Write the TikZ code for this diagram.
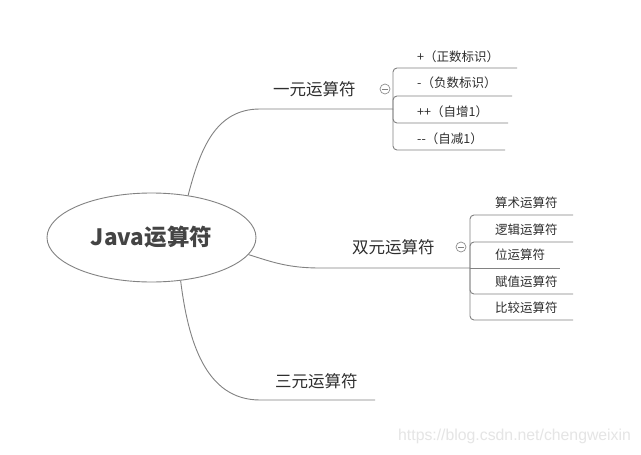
\documentclass[tikz,border=0pt]{standalone}
\usepackage{fontspec}
\setmainfont{Noto Sans CJK SC}
\newfontfamily\wmfont{Liberation Sans}
\usetikzlibrary{shapes.geometric}
\definecolor{linegray}{HTML}{828282}
\definecolor{txt}{HTML}{2E2E2E}
\definecolor{roottxt}{HTML}{444444}
\begin{document}
\begin{tikzpicture}[x=1pt,y=-1pt,
  conn/.style={draw=linegray,line width=0.9pt},
  brace/.style={draw=linegray,line width=0.9pt,rounded corners=4pt},
  lone/.style={font=\fontsize{16.5}{18}\selectfont, text=txt, anchor=west, inner sep=0},
  ltwo/.style={font=\fontsize{12.5}{14}\selectfont, text=txt, anchor=west, inner sep=0},
  fold/.style={circle,draw=linegray!90,line width=0.7pt,minimum size=10pt,inner sep=0,
    path picture={\draw[linegray,line width=0.7pt] ([xshift=-2.6pt]path picture bounding box.center) -- ([xshift=2.6pt]path picture bounding box.center);}}
]
\useasboundingbox (0,0) rectangle (641,455);
\fill[white] (0,0) rectangle (641,455);

\node[ellipse,draw=linegray,line width=0.9pt,minimum width=209pt,minimum height=89pt,inner sep=0,
  font=\bfseries\fontsize{22.5}{24}\selectfont,text=roottxt] (root) at (151.5,237.5) {Java运算符};

% level one
\node[lone] (n1) at (273,89) {一元运算符};
\node[lone] (n2) at (352,247) {双元运算符};
\node[lone] (n3) at (275,381) {三元运算符};
\node[fold] (f1) at (385,89) {};
\node[fold] (f2) at (461,247) {};

\coordinate (j1) at (393,109);
\coordinate (j2) at (470,268);
\coordinate (e3) at (375,400);

\draw[conn] (root.49) .. controls (200,150) and (215,109) .. (260,109) -- (j1);
\draw[conn] (root.-10) .. controls (272,262) and (288,268) .. (320,268) -- (j2);
\draw[conn] (root.-56) .. controls (188,340) and (205,400) .. (260,400) -- (e3);

% group one
\node[ltwo] (a1) at (417,57) {+（正数标识）};
\node[ltwo] (a2) at (417,83) {-（负数标识）};
\node[ltwo] (a3) at (417,112) {++（自增1）};
\node[ltwo] (a4) at (417,139) {-{}-（自减1）};
\coordinate (ua1) at (517,68);
\coordinate (ua2) at (512,96);
\coordinate (ua3) at (508,123);
\coordinate (ua4) at (505,150);
\draw[brace] (j1) |- (ua1);
\draw[brace] (j1) |- (ua2);
\draw[brace] (j1) |- (ua3);
\draw[brace] (j1) |- (ua4);

% group two
\node[ltwo] (b1) at (495,203) {算术运算符};
\node[ltwo] (b2) at (495,230) {逻辑运算符};
\node[ltwo] (b3) at (495,255) {位运算符};
\node[ltwo] (b4) at (495,282) {赋值运算符};
\node[ltwo] (b5) at (495,308) {比较运算符};
\coordinate (ub1) at (573,215);
\coordinate (ub2) at (573,242);
\coordinate (ub3) at (560,268);
\coordinate (ub4) at (573,294);
\coordinate (ub5) at (573,320);
\draw[brace] (j2) |- (ub1);
\draw[brace] (j2) |- (ub2);
\draw[brace] (j2) -- (ub3);
\draw[brace] (j2) |- (ub4);
\draw[brace] (j2) |- (ub5);

\node[font=\wmfont\fontsize{15.8}{17}\selectfont, text=black!10, anchor=west, inner sep=0] (wm) at (398,436) {https://blog.csdn.net/chengweixin};
\end{tikzpicture}
\end{document}
